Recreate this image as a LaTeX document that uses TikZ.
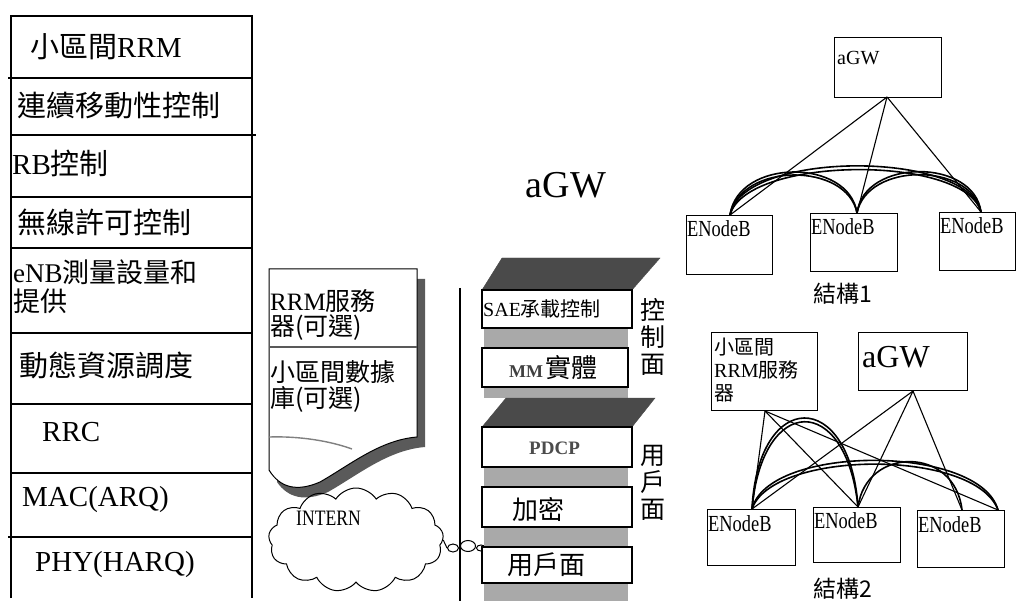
\documentclass[tikz,border=0pt]{standalone}
\usepackage{fontspec}
\setmainfont{Liberation Serif}
\newfontfamily\cjk{Noto Sans CJK TC}
\newfontfamily\narrowrm[FakeStretch=0.8]{Liberation Serif}
\usetikzlibrary{shapes.symbols,shapes.geometric}
\newcommand\zh[1]{{\cjk #1}}
\newcommand\fsz[1]{\fontsize{#1}{#1}\selectfont}
\definecolor{band}{HTML}{A9A9A9}
\definecolor{roof}{HTML}{4A4A4A}
\definecolor{docshadow}{HTML}{5A5A5A}
\tikzset{
  rule/.style={line width=1.2pt},
  cell/.style={anchor=west, inner sep=0pt, font=\fsz{29}},
  layer/.style={draw, line width=1.1pt, fill=white},
  bandfill/.style={fill=band, draw=none},
  roofpoly/.style={fill=roof, draw=roof},
  nodebox/.style={draw, line width=1.2pt, inner sep=0pt},
  boxlabel/.style={anchor=west, inner sep=0pt},
  link/.style={line width=1.1pt},
  arcline/.style={line width=1.6pt},
}
\begin{document}
\begin{tikzpicture}[x=1pt,y=-1pt]
\useasboundingbox (0,0) rectangle (1016,601);
\fill[white] (0,0) rectangle (1016,601);

% ---------------- function table ----------------
\draw[rule] (11,598) -- (11,16) -- (252,16) -- (252,598);
\draw[rule] (8,78) -- (252,78);
\draw[rule] (11,135) -- (256,135);
\draw[rule] (11,197) -- (252,197);
\draw[rule] (11,248) -- (252,248);
\draw[rule] (11,333) -- (252,333);
\draw[rule] (11,404) -- (252,404);
\draw[rule] (11,473) -- (252,473);
\draw[rule] (8,537) -- (252,537);

\node[cell] (t1) at (30,47) {\zh{小區間}RRM};
\node[cell] (t2) at (17,105) {\zh{連續移動性控制}};
\node[cell] (t3) at (12,163) {RB\zh{控制}};
\node[cell] (t4) at (17,222) {\zh{無線許可控制}};
\node[cell, font=\fsz{27}] (t5a) at (13,272) {eNB\zh{測量設量和}};
\node[cell, font=\fsz{27}] (t5b) at (13,301) {\zh{提供}};
\node[cell] (t6) at (19,365) {\zh{動態資源調度}};
\node[cell] (t7) at (42,432) {RRC};
\node[cell] (t8) at (22,500) {MAC(ARQ)};
\node[cell] (t9) at (35,565) {PHY(HARQ)};

% ---------------- RRM server document ----------------
\fill[docshadow] (277,279) -- (425,279) -- (425,447)
  .. controls (388,450) and (358,475) .. (328,492)
  .. controls (305,502) and (288,498) .. (277,482) -- cycle;
\draw[line width=1pt, fill=white] (269,269) -- (417,269) -- (417,437)
  .. controls (380,440) and (350,465) .. (320,482)
  .. controls (297,492) and (280,488) .. (269,470) -- cycle;
\draw[gray, line width=1.4pt] (269,437) .. controls (300,436) and (330,441) .. (352,449);
\draw[gray!70!black, line width=1.2pt] (269,347) -- (417,347);
\node[boxlabel, font=\fsz{25}] (srv1) at (270,301) {RRM\zh{服務}};
\node[boxlabel, font=\fsz{25}] (srv2) at (270,328) {\zh{器(可選)}};
\node[boxlabel, font=\fsz{25}] (db1) at (270,372) {\zh{小區間數據}};
\node[boxlabel, font=\fsz{25}] (db2) at (270,399) {\zh{庫(可選)}};

% ---------------- internet cloud ----------------
\node[cloud, draw, line width=1pt, cloud puffs=13, cloud puff arc=115, aspect=1.7,
      minimum width=175, minimum height=104, inner sep=0pt] (net) at (356,540) {};
\node[boxlabel, font=\narrowrm\fsz{22}] (netlbl) at (296,518) {INTERN};
\draw[line width=1pt] (net.east) -- (447,548);
\node[ellipse, draw, line width=1pt, fill=white, minimum width=11, minimum height=8, inner sep=0pt] (b1) at (453,548) {};
\node[ellipse, draw, line width=1pt, fill=white, minimum width=15, minimum height=11, inner sep=0pt] (b2) at (468,546) {};
\node[ellipse, draw, line width=1pt, fill=white, minimum width=9, minimum height=6, inner sep=0pt] (b3) at (481,548) {};

% separator
\draw[line width=1.1pt] (460,288) -- (460,601);

% ---------------- aGW protocol stack ----------------
\node[font=\fsz{38}, inner sep=0pt] (title) at (566,185) {aGW};

\fill[roofpoly] (482,290) -- (502,258) -- (660,258) -- (632,290) -- cycle;
\fill[bandfill] (484,328) rectangle (628,348);
\fill[bandfill] (484,387) rectangle (628,398);
\draw[layer] (482,290) rectangle (632,328);
\draw[layer] (482,348) rectangle (628,387);
\fill[roofpoly] (482,427) -- (506,398) -- (655,398) -- (632,427) -- cycle;
\fill[bandfill] (484,467) rectangle (628,487);
\fill[bandfill] (484,527) rectangle (628,547);
\fill[bandfill] (484,583) rectangle (628,601);
\draw[layer] (482,427) rectangle (632,467);
\draw[layer] (482,487) rectangle (632,527);
\draw[layer] (482,547) rectangle (632,583);

\node[boxlabel, font=\fsz{20}] (sae) at (483,309) {SAE\zh{承載控制}};
\node[boxlabel] (mm) at (509,368) {{\fsz{18}\bfseries\color{black!75}MM} {\cjk\fsz{26}實體}};
\node[boxlabel, font=\fsz{19}\bfseries, text=black!70] (pdcp) at (529,448) {PDCP};
\node[boxlabel, font=\cjk\fsz{26}] (enc) at (512,509) {加密};
\node[boxlabel, font=\cjk\fsz{26}] (up) at (507,565) {用戶面};

\node[inner sep=0pt, align=center, font=\cjk\fontsize{25}{27}\selectfont] (cp) at (653,337) {控\\制\\面};
\node[inner sep=0pt, align=center, font=\cjk\fontsize{25}{27}\selectfont] (upl) at (653,483) {用\\戶\\面};

% ---------------- structure 1 ----------------
\node[nodebox, minimum width=107, minimum height=60, anchor=north west] (g1) at (834,37) {};
\node[boxlabel, font=\fsz{20}] (g1t) at (837,58) {aGW};
\node[nodebox, minimum width=86, minimum height=59, anchor=north west] (e11) at (686,215) {};
\node[nodebox, minimum width=87, minimum height=58, anchor=north west] (e12) at (810,213) {};
\node[nodebox, minimum width=76, minimum height=58, anchor=north west] (e13) at (939,212) {};
\node[boxlabel, font=\narrowrm\fsz{23}] at (687,229) {ENodeB};
\node[boxlabel, font=\narrowrm\fsz{23}] at (811,227) {ENodeB};
\node[boxlabel, font=\narrowrm\fsz{23}] at (940,226) {ENodeB};
\coordinate (g1b) at (887,97);
\coordinate (p11) at (730,215);
\coordinate (p12) at (857,213);
\coordinate (p13) at (981,212);
\draw[link] (g1b) -- (p11);
\draw[link] (g1b) -- (p12);
\draw[link] (g1b) -- (p13);
\draw[arcline] (p11) .. controls (738,158) and (849,158) .. (p12);
\draw[arcline] (p11) .. controls (741,162) and (847,162) .. (p12);
\draw[arcline] (p12) .. controls (864,158) and (974,158) .. (p13);
\draw[arcline] (p12) .. controls (867,162) and (971,162) .. (p13);
\draw[arcline] (p11) .. controls (742,150) and (968,150) .. (p13);
\draw[arcline] (p11) .. controls (746,156) and (965,154) .. (p13);
\node[font=\cjk\fsz{23}, inner sep=0pt] (s1) at (843,294) {結構1};

% ---------------- structure 2 ----------------
\node[nodebox, minimum width=106, minimum height=78, anchor=north west] (r2) at (711,332) {};
\node[boxlabel, font=\fsz{20}] (r2a) at (714,347) {\zh{小區間}};
\node[boxlabel, font=\fsz{20}] (r2b2) at (714,370) {RRM\zh{服務}};
\node[boxlabel, font=\fsz{20}] (r2c) at (714,393) {\zh{器}};
\node[nodebox, minimum width=109, minimum height=58, anchor=north west] (g2) at (858,332) {};
\node[boxlabel, font=\fsz{32}] (g2t) at (862,357) {aGW};
\node[nodebox, minimum width=88, minimum height=56, anchor=north west] (e21) at (707,509) {};
\node[nodebox, minimum width=87, minimum height=55, anchor=north west] (e22) at (813,507) {};
\node[nodebox, minimum width=87, minimum height=57, anchor=north west] (e23) at (917,510) {};
\node[boxlabel, font=\narrowrm\fsz{23}] at (708,524) {ENodeB};
\node[boxlabel, font=\narrowrm\fsz{23}] at (814,521) {ENodeB};
\node[boxlabel, font=\narrowrm\fsz{23}] at (918,525) {ENodeB};
\coordinate (r2b) at (765,411);
\coordinate (g2b) at (913,391);
\coordinate (p21) at (752,509);
\coordinate (p22) at (858,507);
\coordinate (p23) at (962,510);
\coordinate (p23r) at (998,510);
\draw[link] (r2b) -- (p21);
\draw[link] (r2b) -- (p22);
\draw[link] (r2b) -- (p23r);
\draw[link] (g2b) -- (p21);
\draw[link] (g2b) -- (p22);
\draw[link] (g2b) -- (p23);
\draw[arcline] (p21) .. controls (758,388) and (850,388) .. (p22);
\draw[arcline] (p21) .. controls (762,394) and (846,392) .. (p22);
\draw[arcline] (p22) .. controls (866,446) and (955,446) .. (p23);
\draw[arcline] (p21) .. controls (768,444) and (980,444) .. (p23r);
\draw[arcline] (p21) .. controls (772,450) and (975,448) .. (p23r);
\node[font=\cjk\fsz{23}, inner sep=0pt] (s2) at (843,589) {結構2};
\end{tikzpicture}
\end{document}
